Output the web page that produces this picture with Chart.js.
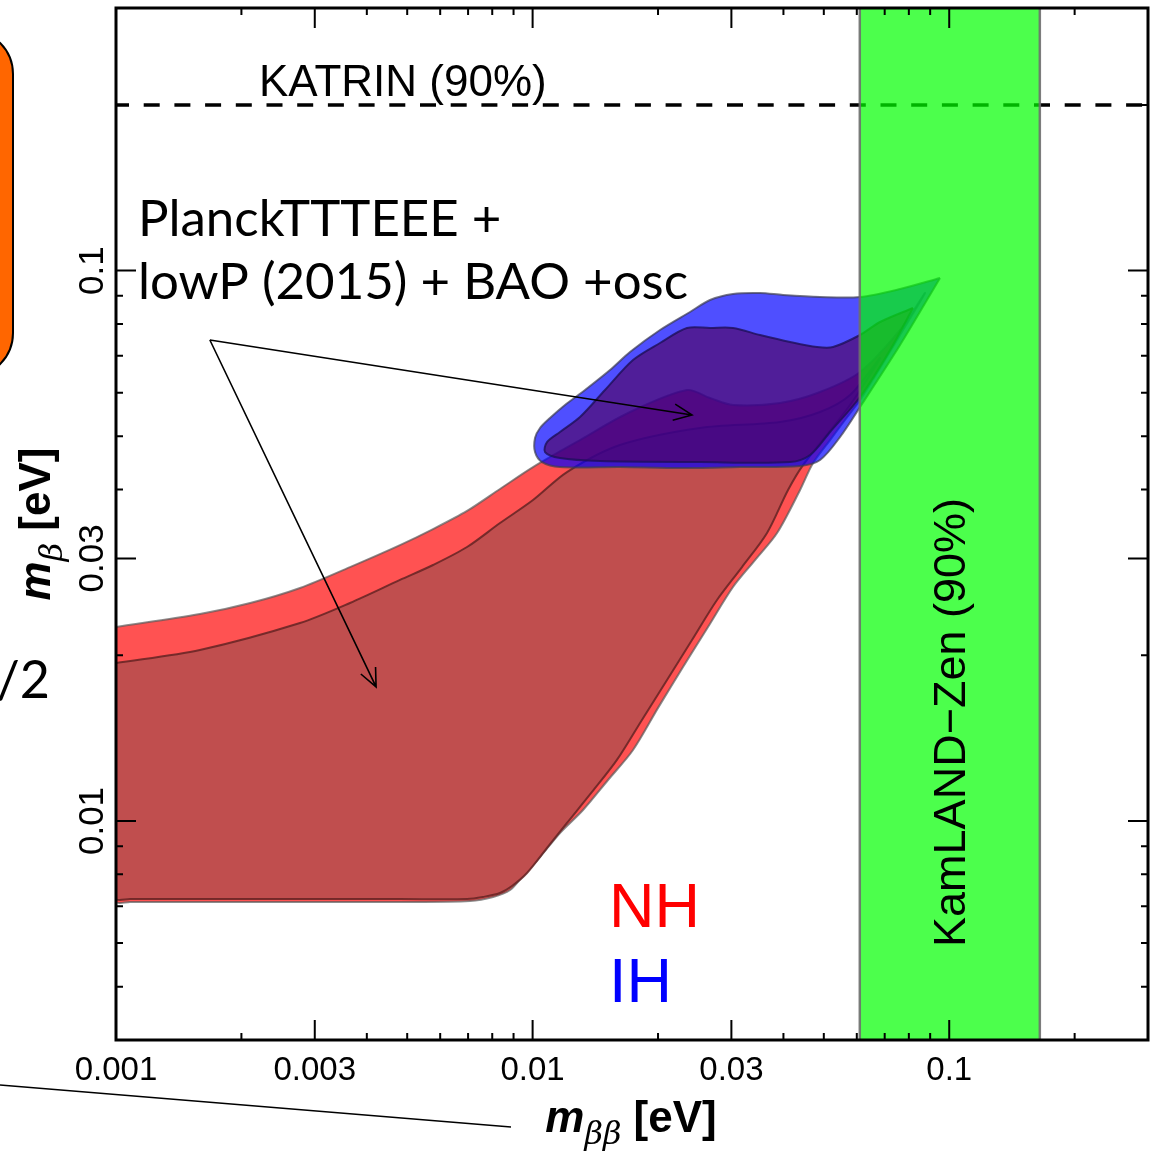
<!DOCTYPE html>
<html>
<head>
<meta charset="utf-8">
<script src="https://cdn.jsdelivr.net/npm/chart.js@4.4.0/dist/chart.umd.min.js"></script>
<style>
  html, body { margin: 0; padding: 0; background: #fff; }
</style>
</head>
<body>
<canvas id="grafica" width="1158" height="1151"></canvas>
<script>
// contornos de las regiones permitidas (m_bb, m_beta en eV)
const nhExtMbb = [0.001, 0.00159, 0.0021, 0.002765, 0.003645, 0.004805, 0.005768, 0.00696, 0.008351, 0.010023, 0.012995, 0.01713, 0.023474, 0.026656, 0.030269, 0.03926, 0.048978, 0.061092, 0.076207, 0.087482, 0.076207, 0.068234, 0.061092, 0.056234, 0.05176, 0.047119, 0.043853, 0.038612, 0.034188, 0.030269, 0.026363, 0.022961, 0.02, 0.017418, 0.01517, 0.013213, 0.011634, 0.010418, 0.009432, 0.008829, 0.008035, 0.007073, 0.004805, 0.002765, 0.00159, 0.00108, 0.001, 0.001];
const nhExtMb = [0.02251, 0.02377, 0.02489, 0.02651, 0.02893, 0.03172, 0.03392, 0.03659, 0.04011, 0.04396, 0.04922, 0.05534, 0.06068, 0.05868, 0.05699, 0.05747, 0.06017, 0.06542, 0.078, 0.09106, 0.07638, 0.06652, 0.05819, 0.05352, 0.04922, 0.0447, 0.03994, 0.03336, 0.02979, 0.02662, 0.02251, 0.01904, 0.01605, 0.01346, 0.01187, 0.01047, 0.009511, 0.008601, 0.00791, 0.007491, 0.007275, 0.007154, 0.007124, 0.007124, 0.007124, 0.007124, 0.007124, 0.007812];

const nhIntMbb = [0.001, 0.00159, 0.002765, 0.003645, 0.004805, 0.005768, 0.00696, 0.008351, 0.010023, 0.012092, 0.016201, 0.025221, 0.03926, 0.048978, 0.0578, 0.068234, 0.0578, 0.04458, 0.04103, 0.036529, 0.031812, 0.027706, 0.02413, 0.021019, 0.018297, 0.015935, 0.013885, 0.012092, 0.010829, 0.009696, 0.008923, 0.008351, 0.0076, 0.00696, 0.004805, 0.002765, 0.00159, 0.00108, 0.001, 0.001];
const nhIntMb = [0.01936, 0.02045, 0.02289, 0.02489, 0.02741, 0.02918, 0.03146, 0.03478, 0.0383, 0.04305, 0.0482, 0.05176, 0.05307, 0.05534, 0.05942, 0.06939, 0.05699, 0.04433, 0.03994, 0.03336, 0.02893, 0.02521, 0.02132, 0.01803, 0.01526, 0.01291, 0.01129, 0.009917, 0.008932, 0.008043, 0.007617, 0.007398, 0.007275, 0.007214, 0.007214, 0.007214, 0.007214, 0.007214, 0.007214, 0.007812];

const ihExtMbb = [0.09506, 0.076207, 0.061092, 0.048978, 0.039917, 0.035146, 0.030269, 0.026656, 0.023867, 0.020221, 0.01713, 0.015338, 0.01336, 0.01196, 0.011008, 0.010418, 0.010134, 0.010134, 0.010533, 0.011634, 0.016201, 0.022582, 0.031463, 0.043853, 0.048978, 0.054703, 0.061092, 0.076207];
const ihExtMb = [0.09695, 0.09259, 0.08955, 0.08955, 0.0903, 0.09106, 0.09068, 0.08843, 0.0841, 0.078, 0.07113, 0.06597, 0.06068, 0.05699, 0.05397, 0.05176, 0.04964, 0.04681, 0.04489, 0.04396, 0.04396, 0.04378, 0.04396, 0.04415, 0.04527, 0.04985, 0.05651, 0.07325];

const ihIntMbb = [0.081846, 0.068234, 0.061092, 0.052625, 0.048173, 0.041493, 0.035146, 0.030269, 0.026656, 0.023474, 0.020221, 0.017418, 0.01492, 0.012995, 0.011634, 0.010829, 0.01071, 0.011634, 0.014513, 0.025221, 0.041493, 0.046344, 0.05176, 0.061092, 0.07211];
const ihIntMb = [0.08552, 0.08065, 0.07638, 0.07264, 0.07264, 0.07418, 0.07638, 0.07865, 0.07865, 0.07865, 0.07387, 0.06879, 0.06068, 0.05419, 0.0509, 0.04881, 0.04681, 0.04565, 0.04508, 0.04489, 0.04489, 0.04623, 0.0509, 0.05893, 0.07173];

// limites experimentales (90% CL)
const kamlandZen = [0.061, 0.165];
const katrin = 0.2;

// etiquetas de los ejes
const xTicks = [0.001, 0.003, 0.01, 0.03, 0.1];
const xTickLabels = ["0.001", "0.003", "0.01", "0.03", "0.1"];
const yTicks = [0.01, 0.03, 0.1];
const yTickLabels = ["0.01", "0.03", "0.1"];

// flechas de la anotacion de Planck: origen y puntas (eV)
const flechaOrigen = [0.00168, 0.0748];
const flechaPuntas = [[0.02413, 0.05467], [0.00421, 0.01752]];

const poligono = (xs, ys) => {
  const pts = xs.map((v, i) => ({ x: v, y: ys[i] }));
  pts.push(pts[0]);
  return pts;
};

const region = (data, fondo, borde, orden) => ({
  data,
  backgroundColor: fondo,
  borderColor: borde,
  borderWidth: 2,
  fill: 'shape',
  showLine: true,
  pointRadius: 0,
  tension: 0.3,
  order: orden,
  clip: 0
});

const SANS = '"Liberation Sans", Arial, sans-serif';
const GILL = 'Lato, "Open Sans", sans-serif';

const flecha = (ctx, x0, y0, x1, y1) => {
  const ang = Math.atan2(y1 - y0, x1 - x0);
  ctx.beginPath();
  ctx.moveTo(x0, y0);
  ctx.lineTo(x1, y1);
  ctx.moveTo(x1 - 20 * Math.cos(ang - 0.42), y1 - 20 * Math.sin(ang - 0.42));
  ctx.lineTo(x1, y1);
  ctx.lineTo(x1 - 20 * Math.cos(ang + 0.42), y1 - 20 * Math.sin(ang + 0.42));
  ctx.stroke();
};

const marco = {
  id: 'marco',
  afterDraw(chart) {
    const { ctx, chartArea: a, scales: { x, y } } = chart;
    ctx.save();

    // recortes de la figura vecina
    ctx.fillStyle = '#ff6600';
    ctx.strokeStyle = '#000';
    ctx.lineWidth = 2;
    ctx.beginPath();
    ctx.roundRect(-80, 30, 93, 347, 44);
    ctx.fill();
    ctx.stroke();
    ctx.lineWidth = 1.5;
    ctx.beginPath();
    ctx.moveTo(0, 1085);
    ctx.lineTo(511, 1127);
    ctx.stroke();
    ctx.fillStyle = '#000';
    ctx.font = '52px ' + GILL;
    ctx.textAlign = 'right';
    ctx.fillText('/2', 50, 698);

    // marcas hacia dentro en los cuatro lados
    ctx.lineWidth = 2;
    ctx.beginPath();
    for (let d = -3; d <= -1; d++) {
      for (let k = 1; k <= 9; k++) {
        const v = k * Math.pow(10, d);
        const largo = (k === 1 || k === 3) ? 20 : 7;
        if (v > x.min * 1.001 && v < x.max * 0.999) {
          const px = x.getPixelForValue(v);
          ctx.moveTo(px, a.bottom); ctx.lineTo(px, a.bottom - largo);
          ctx.moveTo(px, a.top); ctx.lineTo(px, a.top + largo);
        }
      }
    }
    for (let d = -3; d <= -1; d++) {
      for (let k = 1; k <= 9; k++) {
        const v = k * Math.pow(10, d);
        const largo = (k === 1 || k === 3) ? 20 : 7;
        if (v > y.min * 1.001 && v < y.max * 0.999) {
          const py = y.getPixelForValue(v);
          ctx.moveTo(a.left, py); ctx.lineTo(a.left + largo, py);
          ctx.moveTo(a.right, py); ctx.lineTo(a.right - largo, py);
        }
      }
    }
    ctx.stroke();
    ctx.lineWidth = 3;
    ctx.strokeRect(a.left, a.top, a.right - a.left, a.bottom - a.top);

    // numeros de los ejes
    ctx.fillStyle = '#000';
    ctx.font = '33px ' + SANS;
    ctx.textAlign = 'center';
    ctx.textBaseline = 'alphabetic';
    xTicks.forEach((v, i) => ctx.fillText(xTickLabels[i], x.getPixelForValue(v), a.bottom + 40));
    ctx.font = '35px ' + SANS;
    yTicks.forEach((v, i) => {
      ctx.save();
      ctx.translate(a.left - 13, y.getPixelForValue(v));
      ctx.rotate(-Math.PI / 2);
      ctx.fillText(yTickLabels[i], 0, 0);
      ctx.restore();
    });

    // titulos de los ejes
    const titulo = (sub) => {
      const partes = [
        ['bold italic 44px ' + SANS, 'm', 0],
        ['italic 32px "DejaVu Serif", serif', sub, 12],
        ['bold 44px ' + SANS, ' [eV]', 0]
      ];
      let total = 0;
      partes.forEach(p => { ctx.font = p[0]; total += ctx.measureText(p[1]).width; });
      let cx = -total / 2;
      ctx.textAlign = 'left';
      partes.forEach(p => {
        ctx.font = p[0];
        ctx.fillText(p[1], cx, p[2]);
        cx += ctx.measureText(p[1]).width;
      });
    };
    ctx.save();
    ctx.translate(631, 1132);
    titulo('ββ');
    ctx.restore();
    ctx.save();
    ctx.translate(50, 524);
    ctx.rotate(-Math.PI / 2);
    titulo('β');
    ctx.restore();

    // textos dentro del panel
    ctx.textAlign = 'left';
    ctx.fillStyle = '#000';
    ctx.font = '44px ' + SANS;
    ctx.fillText('KATRIN (90%)', 259, 96);

    ctx.font = '51px ' + GILL;
    ctx.fillText('PlanckTTTEEE +', 138, 236);
    ctx.fillText('lowP (2015) + BAO +osc', 138, 299);

    ctx.font = '63px ' + SANS;
    ctx.fillStyle = '#ff0000';
    ctx.fillText('NH', 609, 927);
    ctx.fillStyle = '#0000ff';
    ctx.fillText('IH', 609, 1002);

    ctx.fillStyle = '#000';
    ctx.font = '45px ' + SANS;
    ctx.save();
    ctx.translate(965, y.getPixelForValue(0.0151));
    ctx.rotate(-Math.PI / 2);
    ctx.textAlign = 'center';
    ctx.fillText('KamLAND\u2212Zen (90%)', 0, 0);
    ctx.restore();

    // flechas
    ctx.strokeStyle = '#000';
    ctx.lineWidth = 1.6;
    const ox = x.getPixelForValue(flechaOrigen[0]);
    const oy = y.getPixelForValue(flechaOrigen[1]);
    flechaPuntas.forEach(p => flecha(ctx, ox, oy, x.getPixelForValue(p[0]), y.getPixelForValue(p[1])));

    ctx.restore();
  }
};

new Chart(document.getElementById('grafica'), {
  type: 'scatter',
  data: {
    datasets: [
      {
        data: poligono([kamlandZen[0], kamlandZen[1], kamlandZen[1], kamlandZen[0]], [0.001, 0.001, 1, 1]),
        backgroundColor: 'rgba(0, 255, 0, 0.7)',
        borderColor: 'rgba(110, 110, 110, 0.9)',
        borderWidth: 2.5,
        fill: 'shape',
        showLine: true,
        pointRadius: 0,
        order: 1,
        clip: 0
      },
      {
        data: [{ x: 0.001, y: katrin }, { x: 0.3, y: katrin }],
        borderColor: '#000',
        borderWidth: 3.5,
        borderDash: [16, 14.7],
        borderDashOffset: 3,
        fill: false,
        showLine: true,
        pointRadius: 0,
        order: 2,
        clip: 0
      },
      region(poligono(ihIntMbb, ihIntMb), 'rgba(80, 0, 90, 0.62)', 'rgba(30, 15, 90, 0.8)', 3),
      region(poligono(ihExtMbb, ihExtMb), 'rgba(0, 0, 255, 0.69)', 'rgba(60, 60, 80, 0.7)', 4),
      region(poligono(nhIntMbb, nhIntMb), 'rgb(192, 78, 78)', 'rgba(100, 35, 35, 0.85)', 5),
      region(poligono(nhExtMbb, nhExtMb), 'rgb(255, 82, 82)', 'rgba(90, 90, 90, 0.7)', 6)
    ]
  },
  options: {
    responsive: false,
    animation: false,
    events: [],
    layout: { padding: { left: 116, right: 10, top: 8, bottom: 111 } },
    scales: {
      x: { type: 'logarithmic', min: 0.001, max: 0.3, display: false },
      y: { type: 'logarithmic', min: 0.004, max: 0.3, display: false }
    },
    plugins: {
      legend: { display: false },
      tooltip: { enabled: false }
    }
  },
  plugins: [marco]
});
</script>
</body>
</html>
